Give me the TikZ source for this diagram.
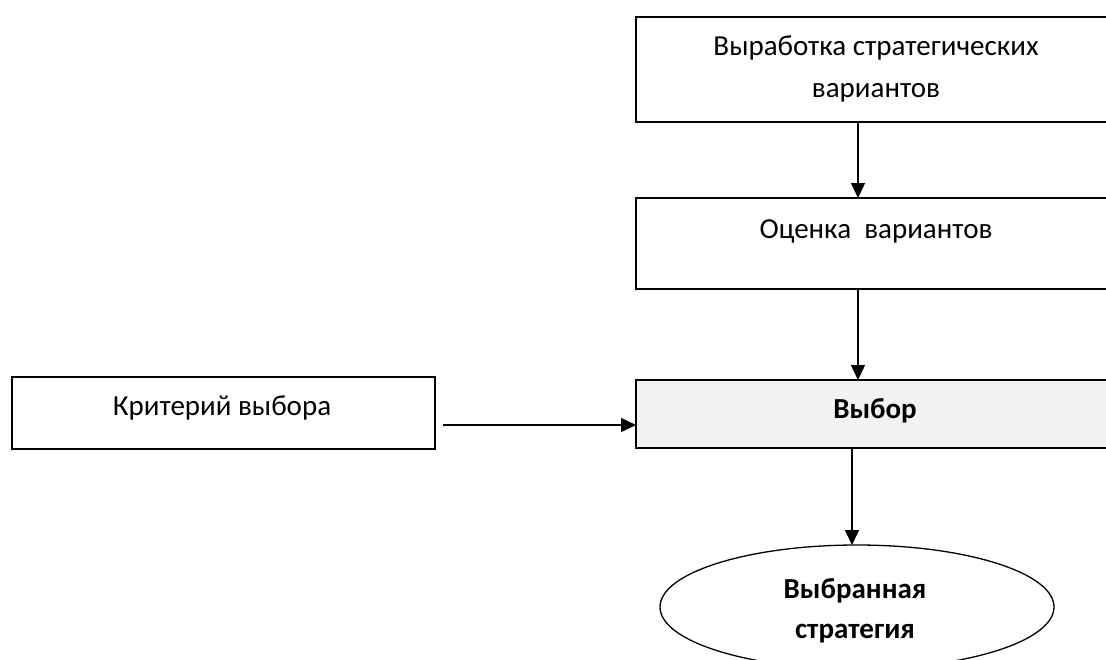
\documentclass[tikz,border=0pt]{standalone}
\usepackage{fontspec}
\setmainfont{Carlito}
\usetikzlibrary{arrows.meta,shapes.geometric}
\begin{document}
\begin{tikzpicture}[x=1pt,y=-1pt,
  boxline/.style={line width=1.8pt},
  conn/.style={line width=1.4pt,-{Triangle[length=15pt,width=14pt]}},
  lbl/.style={font=\fontsize{29}{35}\selectfont,inner sep=0pt,anchor=base},
  blbl/.style={lbl,font=\fontsize{29}{35}\selectfont\bfseries}]
\useasboundingbox (0,0) rectangle (1106,659);
\clip (0,0) rectangle (1106,659);
% boxes
\draw[boxline] (636,17) rectangle (1125,122);
\draw[boxline] (636,198) rectangle (1125,289);
\draw[boxline,fill={rgb,255:red,242;green,242;blue,242}] (636,380) rectangle (1125,448);
\draw[boxline] (12,377) rectangle (435,449);
\draw[line width=1.3pt] (857,607) ellipse [x radius=197,y radius=62];
% named anchors
\coordinate (b1) at (858,122);
\coordinate (t2) at (858,198);
\coordinate (b2) at (858,289);
\coordinate (t3) at (858,380);
\coordinate (b3) at (852,448);
\coordinate (te) at (852,545);
\coordinate (ka) at (443,425);
\coordinate (kb) at (636,425);
% texts
\node[lbl] (t1a) at (876,55) {Выработка стратегических};
\node[lbl] (t1b) at (876,97) {вариантов};
\node[lbl] (t2a) at (876,238) {Оценка\ \ вариантов};
\node[blbl] (t3a) at (875,418) {Выбор};
\node[lbl] (tk) at (222,415) {Критерий выбора};
\node[blbl] (tea) at (855,598) {Выбранная};
\node[blbl] (teb) at (855,638) {стратегия};
% connectors
\draw[conn] (b1) -- (t2);
\draw[conn] (b2) -- (t3);
\draw[conn] (b3) -- (te);
\draw[conn] (ka) -- (kb);
\end{tikzpicture}
\end{document}
